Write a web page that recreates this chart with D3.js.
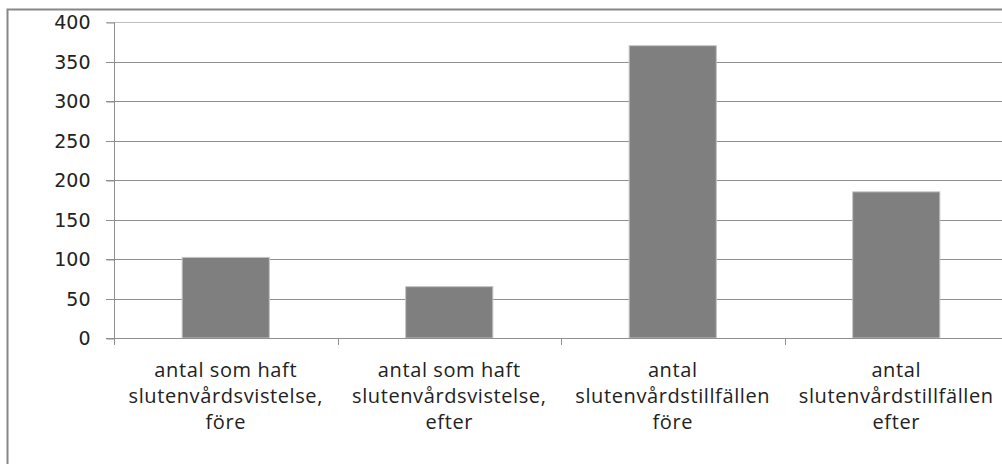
<!DOCTYPE html>
<html><head><meta charset="utf-8">
<script src="https://cdn.jsdelivr.net/npm/d3@7"></script>
<style>html,body{margin:0;padding:0;background:#fff;overflow:hidden}</style>
</head><body>
<svg id="c" width="1002" height="464"></svg>
<script>
const categories = ["c1","c2","c3","c4"];
const categoryLabels = [
  ["antal som haft","slutenvårdsvistelse,","före"],
  ["antal som haft","slutenvårdsvistelse,","efter"],
  ["antal","slutenvårdstillfällen","före"],
  ["antal","slutenvårdstillfällen","efter"]
];
const values = [102, 65, 370, 185];
const yTicks = [0,50,100,150,200,250,300,350,400];

const svg = d3.select("#c");
const pLeft = 114, pRight = 1008, pTop = 22, pBottom = 338;

// outer frame
svg.append("rect").attr("x",7.5).attr("y",9.5).attr("width",1010).attr("height",470)
  .attr("fill","none").attr("stroke","#878787").attr("stroke-width",2);

const y = d3.scaleLinear().domain([0,400]).range([pBottom, pTop]);
const xCat = d3.scaleBand().domain(categories).range([pLeft, pRight]).padding(0);
const xBar = d3.scaleBand().domain(categories).range([pLeft, pRight]).paddingInner(0.61).paddingOuter(0.305);

// gridlines
svg.append("g").selectAll("line").data(yTicks.filter(t=>t>0)).join("line")
  .attr("x1",pLeft-8).attr("x2",pRight).attr("y1",d=>Math.round(y(d))+0.5).attr("y2",d=>Math.round(y(d))+0.5)
  .attr("stroke",d=>d===400?"#bdbdbd":"#8f8f8f").attr("stroke-width",1);

// y axis
const yAxis = d3.axisLeft(y).tickValues(yTicks).tickSize(8).tickPadding(16);
const gy = svg.append("g").attr("transform",`translate(${pLeft+0.5},0.5)`).call(yAxis);
gy.select(".domain").attr("stroke","#8f8f8f").attr("d",`M0,${pTop}V${pBottom}`);
gy.selectAll(".tick line").attr("stroke","#8f8f8f");
gy.selectAll(".tick text").attr("font-family","DejaVu Sans").attr("font-size",19).attr("fill","#222");

// bars
svg.append("g").selectAll("rect").data(values).join("rect")
  .attr("x",(d,i)=>xBar(categories[i])).attr("width",xBar.bandwidth())
  .attr("y",d=>y(d)).attr("height",d=>y(0)-y(d))
  .attr("fill","#7f7f7f").attr("stroke","#c4c4c4").attr("stroke-width",1);

// x axis baseline
svg.append("line").attr("x1",pLeft-8).attr("x2",pRight).attr("y1",pBottom+0.5).attr("y2",pBottom+0.5)
  .attr("stroke","#8f8f8f");
// category ticks
const bounds = categories.map(c=>xCat(c)).concat([pRight]);
svg.append("g").selectAll("line").data(bounds).join("line")
  .attr("x1",d=>Math.round(d)+0.5).attr("x2",d=>Math.round(d)+0.5).attr("y1",pBottom).attr("y2",pBottom+7)
  .attr("stroke","#8f8f8f");

// category labels
const lg = svg.append("g");
categories.forEach((c,i)=>{
  const cx = xCat(c) + xCat.bandwidth()/2;
  const t = lg.append("text").attr("text-anchor","middle").attr("font-family","Open Sans")
    .attr("font-size",20).attr("letter-spacing","0.6px").attr("fill","#222");
  categoryLabels[i].forEach((ln,k)=>{
    t.append("tspan").attr("x",cx).attr("y",377+26*k).text(ln);
  });
});
</script>
</body></html>
